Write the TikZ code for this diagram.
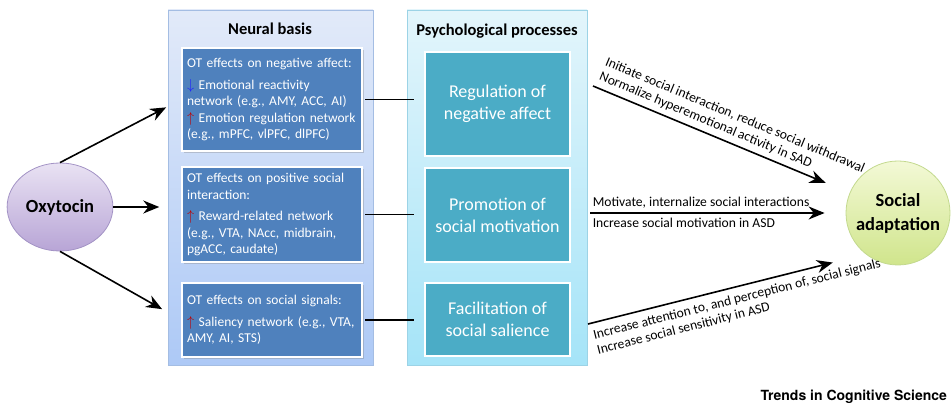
\documentclass[tikz,border=0pt]{standalone}
\usepackage{fontspec}
\setmainfont{Carlito}
\newfontfamily\herosfont{TeX Gyre Heros}
\usetikzlibrary{arrows.meta,shadows,shapes.geometric}
\definecolor{basisblue}{HTML}{4F81BD}
\definecolor{procteal}{HTML}{4BACC6}
\definecolor{upred}{HTML}{C00000}
\definecolor{downblue}{HTML}{1F1FFF}
\definecolor{nbtop}{HTML}{E2EAF9}
\definecolor{nbbottom}{HTML}{ADC9F6}
\definecolor{nbline}{HTML}{A4BDE3}
\definecolor{pptop}{HTML}{E3F5FB}
\definecolor{ppbottom}{HTML}{A5E4F8}
\definecolor{ppline}{HTML}{9CD3E6}
\definecolor{oxytop}{HTML}{E9E2F3}
\definecolor{oxybottom}{HTML}{B8A5D6}
\definecolor{oxyline}{HTML}{A393C5}
\definecolor{soctop}{HTML}{F3F9D6}
\definecolor{socbottom}{HTML}{D0E58C}
\definecolor{socline}{HTML}{C3D98E}
\newcommand\otup{\textcolor{upred}{$\uparrow$}}
\newcommand\otdown{\textcolor{downblue}{$\downarrow$}}

\begin{document}
\begin{tikzpicture}[x=1pt,y=-1pt,line cap=butt,line join=miter,>={Stealth[length=16pt,width=13pt]}]
		\tikzset{
			panel/.style={draw=#1line,line width=0.8pt,top color=#1top,bottom color=#1bottom,minimum height=355pt,inner sep=0pt},
			basisbox/.style={fill=basisblue,draw=white,line width=1.5pt,text=white,text width=170pt,
				align=left,inner xsep=5pt,inner ysep=4pt,font=\fontsize{13.5}{16.5}\selectfont,
				drop shadow={shadow xshift=2pt,shadow yshift=-2pt,opacity=.35}},
			procbox/.style={fill=procteal,draw=white,line width=2pt,text=white,minimum width=145pt,
				align=center,font=\fontsize{18}{22}\selectfont},
			head/.style={font=\bfseries\fontsize{16.5}{19}\selectfont},
			effect/.style={font=\fontsize{13.6}{15.5}\selectfont,align=left,inner xsep=2pt,inner ysep=#1},
			effect/.default=4pt,
			link/.style={->,line width=1.6pt}
		}
		\useasboundingbox (0,0) rectangle (951,406);
		% the two columns
		\node[panel=nb,minimum width=205pt] (nb) at (270.5,187.5) {};
		\node[panel=pp,minimum width=180pt] (pp) at (497,187.5) {};
		\node[head] (nbt) at (270,29) {Neural basis};
		\node[head] (ppt) at (497,31) {Psychological processes};
		\node[basisbox,minimum height=103pt] (ot1) at (272,99.5) {OT effects on negative affect:\\[5pt]
			\otdown{} Emotional reactivity\\network (e.g., AMY, ACC, AI)\\
			\otup{} Emotion regulation network\\(e.g., mPFC, vlPFC, dlPFC)};
		\node[basisbox,minimum height=95pt] (ot2) at (272,214.5) {OT effects on positive social\\interaction:\\[5pt]
			\otup{} Reward-related network\\(e.g., VTA, NAcc, midbrain,\\pgACC, caudate)};
		\node[basisbox,minimum height=74pt] (ot3) at (272,320) {OT effects on social signals:\\[5pt]
			\otup{} Saliency network (e.g., VTA,\\AMY, AI, STS)};
		\node[procbox,minimum height=104pt] (pp1) at (497.5,104) {Regulation of\\negative affect};
		\node[procbox,minimum height=94pt] (pp2) at (497.5,215) {Promotion of\\social motivation};
		\node[procbox,minimum height=73pt] (pp3) at (497.5,319.5) {Facilitation of\\social salience};
		% ends
		\node[ellipse,draw=oxyline,line width=0.8pt,top color=oxytop,bottom color=oxybottom,
			minimum width=100pt,minimum height=88pt,font=\bfseries\fontsize{18.5}{22}\selectfont] (oxy) at (60,207) {Oxytocin};
		\node[circle,draw=socline,line width=0.8pt,top color=soctop,bottom color=socbottom,
			minimum size=104pt,align=center,font=\bfseries\fontsize{18.5}{24}\selectfont] (soc) at (898,213) {Social\\adaptation};
		\draw[link,shorten >=17pt] (oxy.north) -- (ot1.west);
		\draw[link,shorten >=22pt] (oxy.east) -- (oxy.east -| ot2.west);
		\draw[link,shorten >=22pt] (oxy.south) -- (ot3.west);
		\draw[line width=1.3pt,shorten <=2pt,shorten >=10pt] (ot1.east) -- (ot1.east -| pp1.west);
		\draw[line width=1.3pt,shorten <=2pt,shorten >=10pt] (ot2.east) -- (ot2.east -| pp2.west);
		\draw[line width=1.3pt,shorten <=2pt,shorten >=10pt] (ot3.east) -- (ot3.east -| pp3.west);
		\coordinate (s1) at (593,86);
		\coordinate (s2) at (590,213);
		\coordinate (s3) at (588,324);
		\draw[link,shorten >=26pt] (s1) -- (soc) node[pos=0,sloped,above right,effect=5pt]
			{Initiate social interaction, reduce social withdrawal\\Normalize hyperemotional activity in SAD};
		\draw[link,shorten >=21pt] (s2) -- (soc.west)
			node[pos=0,above right,effect] {Motivate, internalize social interactions}
			node[pos=0,below right,effect] {Increase social motivation in ASD};
		\draw[link,shorten >=34pt] (s3) -- (soc.232) node[pos=0,sloped,below right,effect=6pt]
			{Increase attention to, and perception of, social signals\\Increase social sensitivity in ASD};
		\node[anchor=west,font=\herosfont\bfseries\fontsize{14}{16}\selectfont] (src) at (757,397) {Trends in Cognitive Science};
	\end{tikzpicture}
\end{document}
